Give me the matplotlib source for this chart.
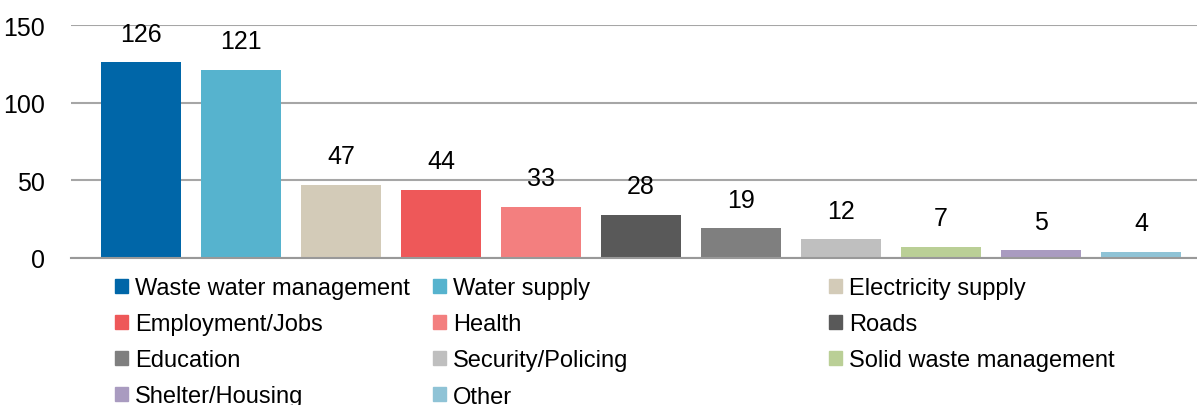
import matplotlib.pyplot as plt
from matplotlib.patches import Patch

# Data
categories = ['Waste water management', 'Water supply', 'Electricity supply',
              'Employment/Jobs', 'Health', 'Roads', 'Education',
              'Security/Policing', 'Solid waste management',
              'Shelter/Housing', 'Other']
values = [126, 121, 47, 44, 33, 28, 19, 12, 7, 5, 4]
colors = ['#0066A8', '#56B3CE', '#D3CBB8', '#EE5859', '#F37F7F', '#595959',
          '#7F7F7F', '#BFBFBF', '#BACF96', '#A99BC0', '#8FC3D6']
yticks = [0, 50, 100, 150]

plt.rcParams['font.family'] = ['Liberation Sans', 'DejaVu Sans']

fig = plt.figure(figsize=(11.97, 4.06), dpi=100)
ax = fig.add_axes([71 / 1197, 1 - 259 / 406, 1 - 71 / 1197, (259 - 26) / 406])

x = range(len(values))
bars = ax.bar(x, values, width=0.8, color=colors, zorder=3)
for b, v in zip(bars, values):
    ax.annotate(str(v), (b.get_x() + b.get_width() / 2, v), xytext=(0, 12),
                textcoords='offset points', ha='center', va='bottom', fontsize=18)

ax.set_ylim(0, 150)
ax.set_xlim(-0.7, 10.56)
ax.set_yticks(yticks)
ax.set_xticks([])
ax.tick_params(axis='y', length=0, labelsize=18, pad=19)
ax.yaxis.grid(True, color='#A6A6A6', linewidth=1.5, zorder=0)
for s in ['top', 'right', 'left']:
    ax.spines[s].set_visible(False)
ax.spines['bottom'].set_color('#999999')
ax.spines['bottom'].set_linewidth(1.5)
ax.spines['bottom'].set_zorder(4)

# legend, one column at a time (column-major like the reference rows)
col_x = [115, 433, 829]
for c in range(3):
    idx = list(range(c, len(categories), 3))
    handles = [Patch(color=colors[i]) for i in idx]
    labels = [categories[i] for i in idx]
    fig.legend(handles, labels, loc='upper left',
               bbox_to_anchor=(col_x[c] / 1197, 1 - 278 / 406),
               frameon=False, fontsize=17, handlelength=0.55,
               handleheight=0.55, handletextpad=0.3, labelspacing=0.6,
               borderaxespad=0, borderpad=0)

fig.savefig('out.png', dpi=100)
